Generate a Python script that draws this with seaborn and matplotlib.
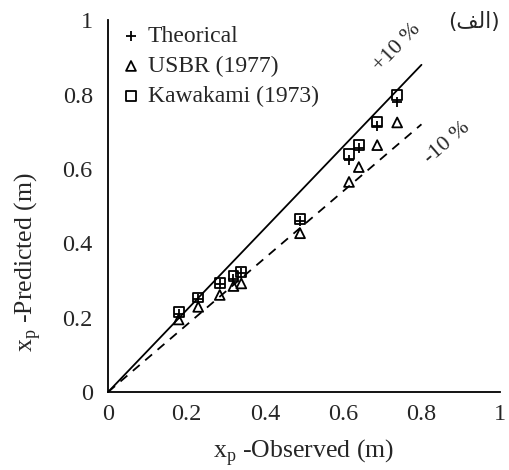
import numpy as np
import pandas as pd
import matplotlib
matplotlib.use('Agg')
import matplotlib.pyplot as plt
import seaborn as sns

# observed vs predicted x_p (m)
observed = [0.18, 0.23, 0.285, 0.32, 0.34, 0.49, 0.615, 0.64, 0.687, 0.738]
theorical = [0.21, 0.25, 0.29, 0.305, 0.32, 0.46, 0.625, 0.655, 0.715, 0.78]
usbr = [0.195, 0.229, 0.261, 0.285, 0.292, 0.427, 0.565, 0.605, 0.664, 0.725]
kawakami = [0.216, 0.254, 0.294, 0.312, 0.322, 0.465, 0.64, 0.665, 0.727, 0.798]

series_names = ['Theorical', 'USBR (1977)', 'Kawakami (1973)']
line_x = np.array([0, 0.8])
ticks = [0, 0.2, 0.4, 0.6, 0.8, 1]
tick_labels = ['0', '0.2', '0.4', '0.6', '0.8', '1']

sns.set_theme(style='white')
plt.rcParams['font.family'] = ['Liberation Serif', 'DejaVu Sans']
plt.rcParams['mathtext.fontset'] = 'custom'
plt.rcParams['mathtext.rm'] = 'Liberation Serif'

fig = plt.figure(figsize=(5.1, 4.7), dpi=100)
ax = fig.add_axes([0.212, 0.166, 0.768, 0.791])

df = pd.DataFrame({'obs': observed, 'theo': theorical, 'usbr': usbr, 'kaw': kawakami})

sns.lineplot(x=line_x, y=1.1 * line_x, color='black', lw=1.3, ax=ax)
sns.lineplot(x=line_x, y=0.9 * line_x, color='black', lw=1.3, ax=ax, linestyle=(0, (5, 4)))

sns.scatterplot(data=df, x='obs', y='theo', marker='+', s=45, color='black',
                linewidth=1.3, ax=ax, label=series_names[0], zorder=3)
sns.scatterplot(data=df, x='obs', y='usbr', marker='^', s=50, facecolor='none',
                edgecolor='black', linewidth=1.3, ax=ax, label=series_names[1], zorder=3)
sns.scatterplot(data=df, x='obs', y='kaw', marker='s', s=50, facecolor='none',
                edgecolor='black', linewidth=1.3, ax=ax, label=series_names[2], zorder=3)

ax.set_xlim(0, 1)
ax.set_ylim(0, 1)
ax.set_xticks(ticks)
ax.set_xticklabels(tick_labels, fontsize=17.5)
ax.set_yticks(ticks)
ax.set_yticklabels(tick_labels, fontsize=17.5)
ax.tick_params(axis='x', length=0, pad=9)
ax.set_xlabel(r'x$_{\rm p}$ -Observed (m)', fontsize=18.5, labelpad=8)
ax.tick_params(axis='y', length=0, pad=11)
ax.set_ylabel(r'x$_{\rm p}$ -Predicted (m)', fontsize=18.5)
ax.yaxis.set_label_coords(-0.165, 0.35)
for s in ['top', 'right']:
    ax.spines[s].set_visible(False)
for s in ['left', 'bottom']:
    ax.spines[s].set_color('black')
    ax.spines[s].set_linewidth(1.3)

ax.text(0.737, 0.925, '+10 %', rotation=46, fontsize=16, ha='center', va='center')
ax.text(0.865, 0.67, '-10 %', rotation=41, fontsize=16, ha='center', va='center')
ax.text(1.0, 0.995, '(\uFED2\uFEDF\uFE8D)', fontsize=15.5, ha='right', va='center',
        family=['DejaVu Sans'])

leg = ax.legend(loc='upper left', bbox_to_anchor=(-0.02, 1.03), frameon=False,
                fontsize=17, handletextpad=0.1, labelspacing=0.36, borderpad=0.2,
                handlelength=1.2)

fig.savefig('out.png', dpi=100)
